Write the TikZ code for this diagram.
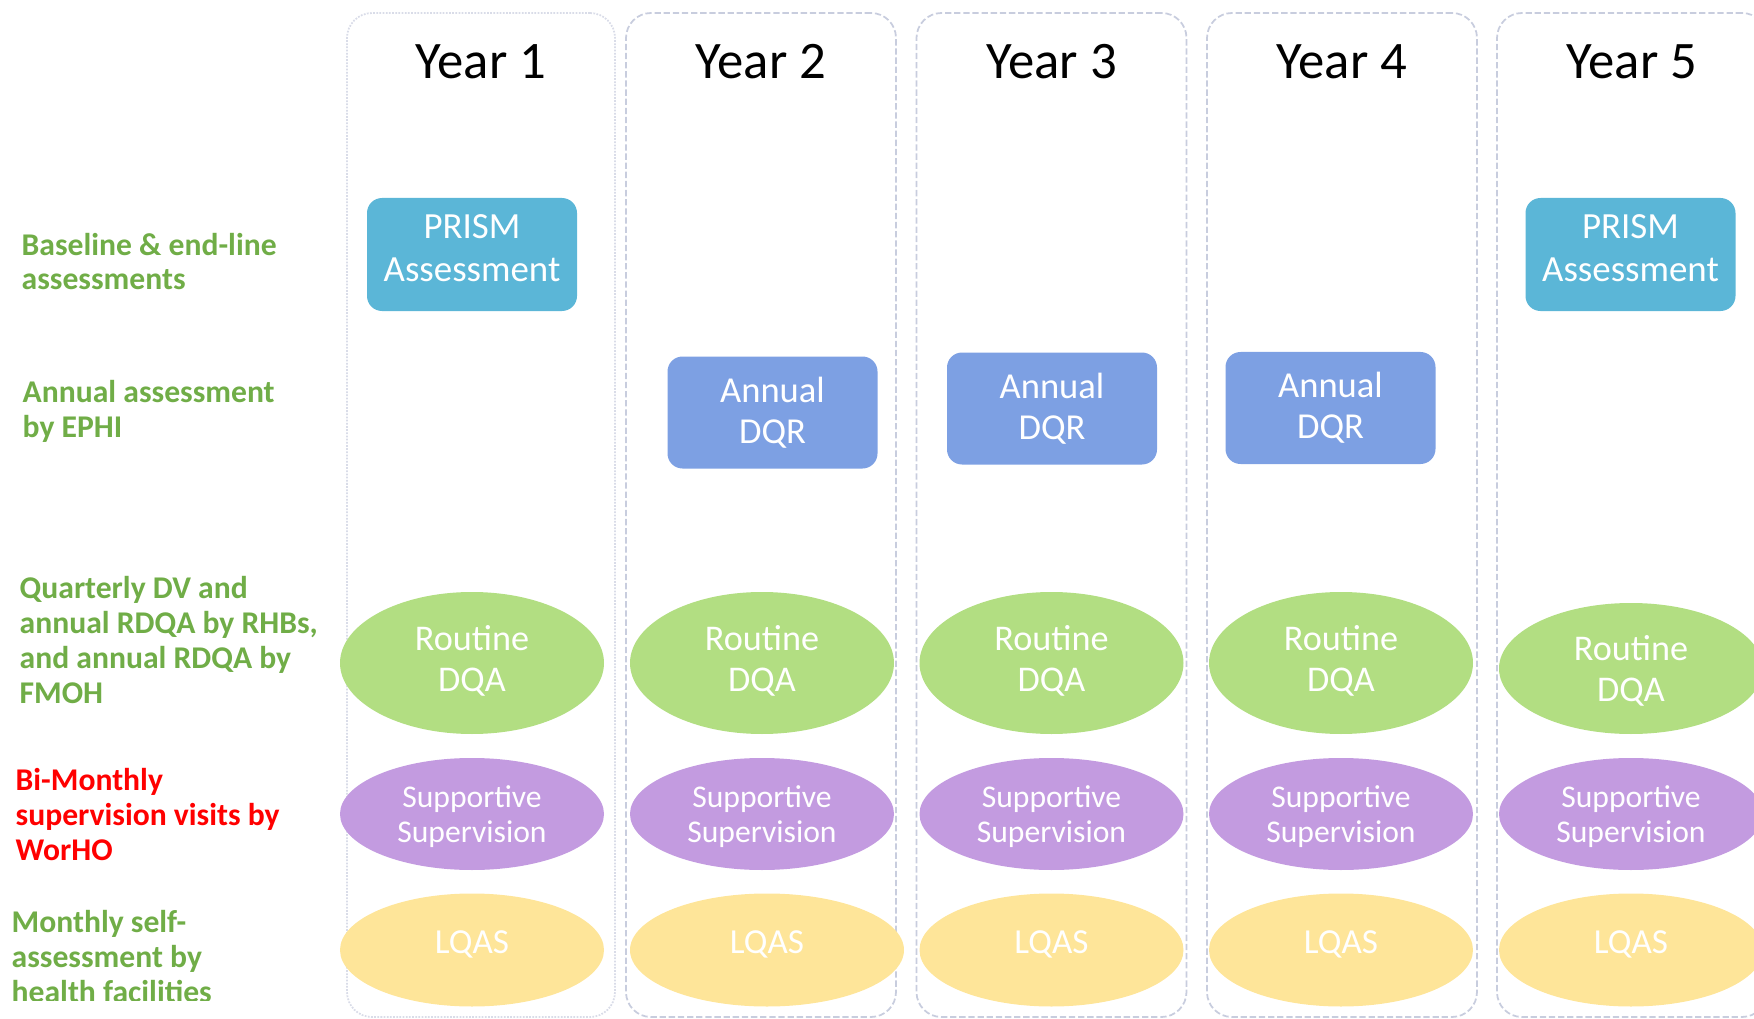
\documentclass[tikz,border=0pt]{standalone}
\usepackage{fontspec}
\setmainfont{Carlito}
\usepackage{xcolor}
\usepackage{tikz}
\usetikzlibrary{shapes.geometric}

\definecolor{prismblue}{RGB}{91,182,215}
\definecolor{dqrblue}{RGB}{125,160,227}
\definecolor{dqagreen}{RGB}{178,222,130}
\definecolor{suppurple}{RGB}{195,155,224}
\definecolor{lqasyellow}{RGB}{254,229,153}
\definecolor{lblgreen}{RGB}{112,173,71}
\definecolor{colline}{RGB}{200,205,222}

\begin{document}
\begin{tikzpicture}[
    yearcol/.style={draw=colline,line width=0.5pt,dash pattern=on 1.8pt off 0.8pt,rounded corners=0.25cm,minimum width=2.7cm,minimum height=10.04cm,inner sep=0},
    firstcol/.style={yearcol,draw=colline!70,dash pattern=on 0.5pt off 0.4pt,minimum width=2.68cm},
    yearlbl/.style={anchor=base,inner sep=0,font=\fontsize{15}{18}\selectfont},
    prismbox/.style={fill=prismblue,rounded corners=0.15cm,minimum width=2.1cm,minimum height=1.13cm,inner sep=0,align=center,text=white,text depth=0.13cm,font=\fontsize{10.5}{12.2}\selectfont},
    dqrbox/.style={fill=dqrblue,rounded corners=0.15cm,minimum width=2.1cm,minimum height=1.12cm,inner sep=0,align=center,text=white,font=\fontsize{10.4}{11.7}\selectfont},
    dqa/.style={ellipse,fill=dqagreen,minimum width=2.64cm,minimum height=1.42cm,inner sep=0,align=center,text=white,text depth=0.09cm,font=\fontsize{10.3}{11.9}\selectfont},
    supv/.style={ellipse,fill=suppurple,minimum width=2.64cm,minimum height=1.12cm,inner sep=0,align=center,text=white,text depth=0cm,font=\fontsize{9}{10.2}\selectfont},
    lqas/.style={ellipse,fill=lqasyellow,minimum width=2.64cm,minimum height=1.13cm,inner sep=0,text=white,text depth=0.16cm,font=\fontsize{10}{12}\selectfont},
    rowlbl/.style={anchor=base west,inner sep=0,align=left,text=lblgreen,font=\fontsize{9}{9.9}\selectfont\bfseries}
]
    \useasboundingbox (0,0) rectangle (17.54,10.18);

    % year columns
    \node[firstcol] (c1) at (4.81,5.03) {};
    \node[yearcol] (c2) at (7.61,5.03) {};
    \node[yearcol] (c3) at (10.515,5.03) {};
    \node[yearcol] (c4) at (13.42,5.03) {};
    \node[yearcol] (c5) at (16.32,5.03) {};

    \node[yearlbl] (y1) at (4.81,9.39) {Year 1};
    \node[yearlbl] (y2) at (7.61,9.39) {Year 2};
    \node[yearlbl] (y3) at (10.515,9.39) {Year 3};
    \node[yearlbl] (y4) at (13.42,9.39) {Year 4};
    \node[yearlbl] (y5) at (16.32,9.39) {Year 5};

    % row labels (base = last line)
    \node[rowlbl] (L1) at (0.21,7.28) {Baseline \& end-line\\assessments};
    \node[rowlbl] (L2) at (0.22,5.81) {Annual assessment\\by EPHI};
    \node[rowlbl] (L3) at (0.19,3.15) {Quarterly DV and\\annual RDQA by RHBs,\\and annual RDQA by\\FMOH};
    \node[rowlbl,text=red] (L4) at (0.15,1.58) {Bi-Monthly\\supervision visits by\\WorHO};
    \begin{scope}
        \clip (0,0.18) rectangle (3.4,1.4);
        \node[rowlbl] (L5) at (0.11,0.16) {Monthly self-\\assessment by\\health facilities};
    \end{scope}

    % assessments
    \node[prismbox] (p1) at (4.72,7.635) {PRISM\\Assessment};
    \node[prismbox] (p5) at (16.305,7.635) {PRISM\\Assessment};
    \node[dqrbox] (a2) at (7.725,6.055) {Annual\\DQR};
    \node[dqrbox] (a3) at (10.52,6.095) {Annual\\DQR};
    \node[dqrbox] (a4) at (13.305,6.10) {Annual\\DQR};

    \node[dqa] (r1) at (4.72,3.55) {Routine\\DQA};
    \node[dqa] (r2) at (7.62,3.55) {Routine\\DQA};
    \node[dqa] (r3) at (10.515,3.55) {Routine\\DQA};
    \node[dqa] (r4) at (13.41,3.55) {Routine\\DQA};
    \node[dqa,minimum height=1.31cm,text depth=-0.02cm] (r5) at (16.31,3.495) {Routine\\DQA};

    \node[supv] (s1) at (4.72,2.04) {Supportive\\Supervision};
    \node[supv] (s2) at (7.62,2.04) {Supportive\\Supervision};
    \node[supv] (s3) at (10.515,2.04) {Supportive\\Supervision};
    \node[supv] (s4) at (13.41,2.04) {Supportive\\Supervision};
    \node[supv] (s5) at (16.31,2.04) {Supportive\\Supervision};

    \node[lqas] (q1) at (4.72,0.68) {LQAS};
    \node[lqas,minimum width=2.74cm] (q2) at (7.67,0.68) {LQAS};
    \node[lqas] (q3) at (10.515,0.68) {LQAS};
    \node[lqas] (q4) at (13.41,0.68) {LQAS};
    \node[lqas] (q5) at (16.31,0.68) {LQAS};
\end{tikzpicture}
\end{document}
